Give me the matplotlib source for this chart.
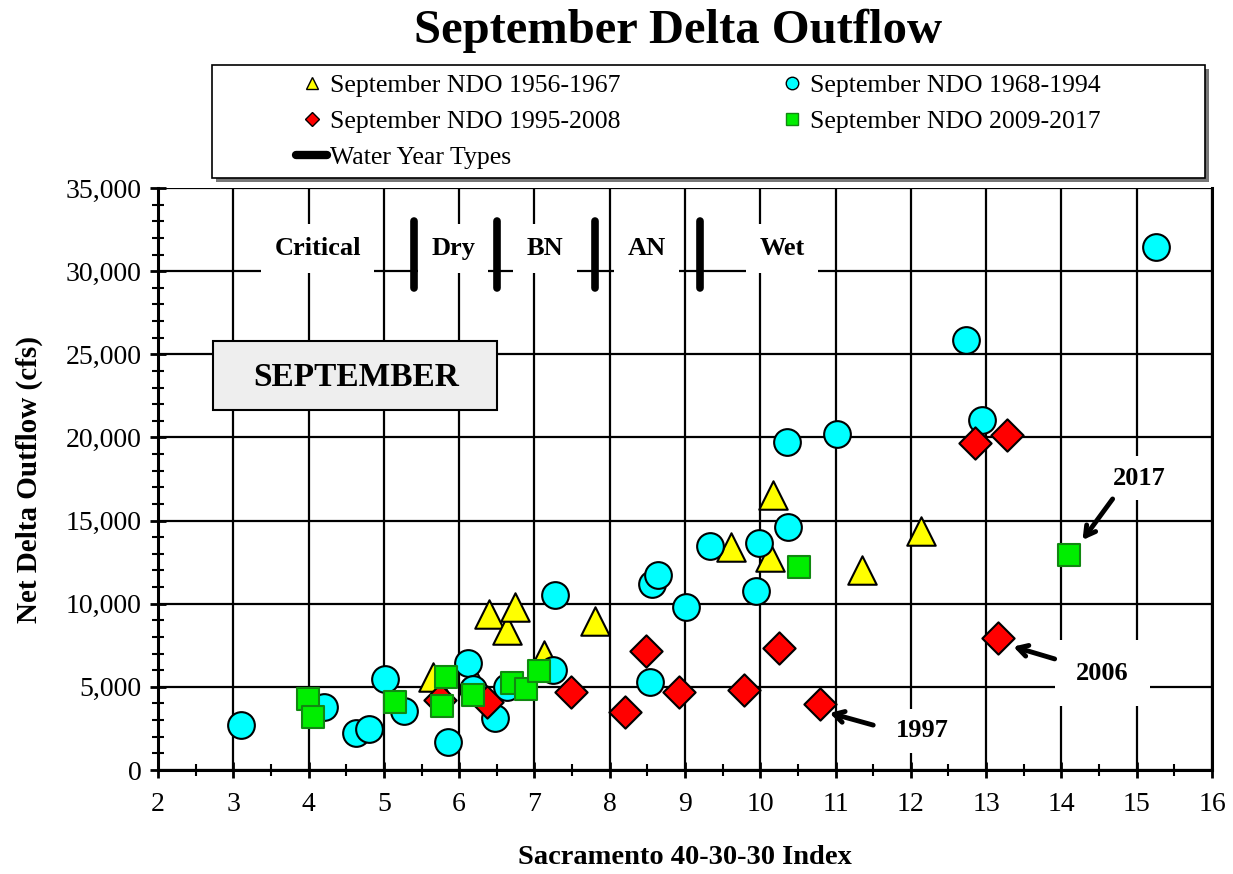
import matplotlib
matplotlib.use("Agg")
from matplotlib import pyplot as plt
from matplotlib.ticker import MultipleLocator, FuncFormatter
from matplotlib.patches import Rectangle
from matplotlib.lines import Line2D

plt.rcParams['font.family'] = ['Liberation Serif', 'DejaVu Serif']

# September NDO 1956-1967
x_5667 = [5.65, 6.18, 6.40, 6.63, 6.74, 7.13, 7.80, 9.61, 10.13, 10.17, 11.35, 12.13]
y_5667 = [5600, 5450, 9400, 8420, 9820, 6920, 8950, 13430, 12830, 16540, 12030, 14350]

# September NDO 1968-1994
x_6894 = [3.10, 4.21, 4.63, 4.80, 5.01, 5.27, 5.85, 6.12, 6.19, 6.48, 6.63, 7.25, 7.27,
          8.53, 8.56, 8.64, 9.01, 9.33, 9.94, 9.98, 10.35, 10.37, 11.02, 12.73, 12.95, 15.25]
y_6894 = [2720, 3770, 2245, 2445, 5490, 3570, 1700, 6450, 4900, 3150, 5000, 6010, 10520,
          5270, 11200, 11750, 9820, 13470, 10770, 13630, 19700, 14600, 20210, 25860, 21050, 31470]

# September NDO 1995-2008
x_9508 = [5.74, 6.37, 7.49, 8.20, 8.48, 8.92, 9.78, 10.25, 10.79, 12.85, 13.16, 13.28]
y_9508 = [4210, 4110, 4710, 3510, 7150, 4670, 4810, 7320, 3970, 19680, 7940, 20150]

# September NDO 2009-2017
x_0917 = [3.99, 4.06, 5.15, 5.77, 5.82, 6.18, 6.70, 6.89, 7.06, 10.51, 14.10]
y_0917 = [4250, 3170, 4070, 3870, 5610, 4530, 5210, 4850, 5950, 12190, 12930]

# water year type boundaries and labels
wyt_bounds = [5.4, 6.5, 7.8, 9.2]
wyt_names = ["Critical", "Dry", "BN", "AN", "Wet"]
wyt_label_x = [4.12, 5.92, 7.14, 8.49, 10.29]

W, H = 1233, 874
fig = plt.figure(figsize=(W / 100, H / 100), dpi=100)
ax = fig.add_axes([158 / W, 1 - 770 / H, (1212 - 158) / W, (770 - 188) / H])

ax.set_xlim(2, 16)
ax.set_ylim(0, 35000)

ax.scatter(x_5667, y_5667, marker='^', s=420, c='#ffff00', edgecolors='black', linewidths=1.5, zorder=4)
ax.scatter(x_6894, y_6894, marker='o', s=370, c='#00ffff', edgecolors='black', linewidths=1.5, zorder=5)
ax.scatter(x_9508, y_9508, marker='D', s=270, c='#ff0000', edgecolors='black', linewidths=1.5, zorder=6)
ax.scatter(x_0917, y_0917, marker='s', s=230, c='#00ee00', edgecolors='#118811', linewidths=1.5, zorder=7)

# water year type bars
for b in wyt_bounds:
    ax.plot([b, b], [29000, 33000], color='black', lw=5.5, solid_capstyle='round', zorder=3)
for name, xx in zip(wyt_names, wyt_label_x):
    ax.text(xx, 31350, name, ha='center', va='center', fontsize=19, fontweight='bold', zorder=2,
            bbox=dict(boxstyle='square,pad=0.5', fc='white', ec='none'))

# SEPTEMBER box
ax.add_patch(Rectangle((2.73, 21650), 3.77, 4150, facecolor='#eeeeee', edgecolor='black', lw=1.5, zorder=3))
ax.text(4.63, 23600, "SEPTEMBER", ha='center', va='center', fontsize=24, fontweight='bold', zorder=4)

# annotations
arrow = dict(arrowstyle='->,head_length=0.7,head_width=0.4', color='black', lw=3.5,
             shrinkA=0, shrinkB=0)
box = dict(boxstyle='square,pad=0.4', fc='white', ec='none')
ax.text(15.03, 17560, "2017", ha='center', va='center', fontsize=19, fontweight='bold', bbox=box, zorder=3)
ax.text(14.54, 5830, "2006", ha='center', va='center', fontsize=19, fontweight='bold',
        bbox=dict(boxstyle='square,pad=0.8', fc='white', ec='none'), zorder=3)
ax.text(12.15, 2350, "1997", ha='center', va='center', fontsize=19, fontweight='bold', bbox=box, zorder=3)
ax.annotate("", xy=(14.28, 13830), xytext=(14.68, 16300), arrowprops=arrow, zorder=8)
ax.annotate("", xy=(13.36, 7420), xytext=(13.91, 6680), arrowprops=arrow, zorder=8)
ax.annotate("", xy=(10.92, 3430), xytext=(11.50, 2700), arrowprops=arrow, zorder=8)

# axes styling
ax.xaxis.set_major_locator(MultipleLocator(1))
ax.xaxis.set_minor_locator(MultipleLocator(0.5))
ax.yaxis.set_major_locator(MultipleLocator(5000))
ax.yaxis.set_minor_locator(MultipleLocator(1000))
ax.yaxis.set_major_formatter(FuncFormatter(lambda v, p: f"{int(v):,}"))
ax.tick_params(which='major', direction='inout', length=12, width=2, labelsize=20)
ax.tick_params(axis='x', which='major', pad=10)
ax.tick_params(axis='y', which='major', pad=6)
ax.tick_params(which='minor', direction='inout', length=8, width=1.5)
ax.grid(which='major', color='black', lw=1.6, zorder=0)
ax.set_axisbelow(True)
ax.yaxis.get_gridlines()[-1].set_visible(False)
ax.spines['top'].set_visible(False)
for s in ['left', 'bottom', 'right']:
    ax.spines[s].set_linewidth(2.2)

ax.set_xlabel("Sacramento 40-30-30 Index", fontsize=20.5, fontweight='bold', labelpad=20)
ax.set_ylabel("Net Delta Outflow (cfs)", fontsize=21, fontweight='bold', labelpad=16)

fig.text(678 / W, 1 - 31 / H, "September Delta Outflow", ha='center', va='center',
         fontsize=35, fontweight='bold')

# legend box with shadow
fig.patches.append(Rectangle((216 / W, 1 - 182 / H), 993 / W, 113 / H, transform=fig.transFigure,
                             facecolor='#777777', edgecolor='none', zorder=0))
fig.patches.append(Rectangle((212 / W, 1 - 178 / H), 993 / W, 113 / H, transform=fig.transFigure,
                             facecolor='white', edgecolor='black', lw=1.2, zorder=1))

handles = [
    Line2D([], [], ls='none', marker='^', ms=9, mfc='#ffff00', mec='black'),
    Line2D([], [], ls='none', marker='D', ms=7, mfc='#ff0000', mec='black'),
    Line2D([], [], color='black', lw=6, solid_capstyle='round'),
    Line2D([], [], ls='none', marker='o', ms=9, mfc='#00ffff', mec='black'),
    Line2D([], [], ls='none', marker='s', ms=8, mfc='#00ee00', mec='#118811'),
]
labels = ["September NDO 1956-1967", "September NDO 1995-2008", "Water Year Types",
          "September NDO 1968-1994", "September NDO 2009-2017"]
fig.legend(handles, labels, loc='upper left', bbox_to_anchor=(291 / W, 1 - 69 / H), ncol=2,
           frameon=False, fontsize=18.5, handlelength=1.2, handletextpad=0.1,
           columnspacing=6.1, labelspacing=0.5, borderpad=0.2, borderaxespad=0)

fig.savefig("out.png", dpi=100)
